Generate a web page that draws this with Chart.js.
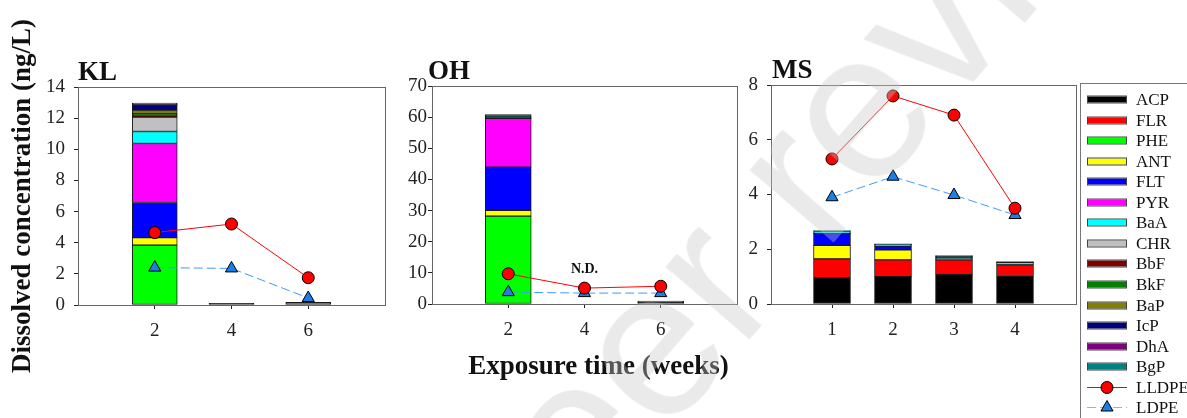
<!DOCTYPE html>
<html>
<head>
<meta charset="utf-8">
<script src="https://cdn.jsdelivr.net/npm/chart.js@4.4.1/dist/chart.umd.min.js"></script>
<style>
body { margin: 0; width: 1187px; height: 418px; position: relative; overflow: hidden; background: #fff; }
.panel { position: absolute; top: 0; }
#watermark {
    position: absolute; left: 0; top: 0; white-space: nowrap; pointer-events: none;
    font: 210px 'Liberation Sans', Arial, sans-serif; line-height: 1;
    color: rgba(200, 200, 200, 0.38);
    transform-origin: 0 0; transform: translate(-374px, 1362px) rotate(-49deg);
}
</style>
</head>
<body>
<canvas class="panel" id="kl" width="395" height="418" style="left:0"></canvas>
<canvas class="panel" id="oh" width="350" height="418" style="left:395px"></canvas>
<canvas class="panel" id="ms" width="442" height="418" style="left:745px"></canvas>
<div id="watermark">Preprint not peer reviewed</div>
<script>
const pahs = ['ACP', 'FLR', 'PHE', 'ANT', 'FLT', 'PYR', 'BaA', 'CHR', 'BbF', 'BkF', 'BaP', 'IcP', 'DhA', 'BgP']
const pahColors = ['#000000', '#ff0000', '#00ff00', '#ffff00', '#0000ff', '#ff00ff', '#00ffff',
    '#c0c0c0', '#800000', '#008000', '#808000', '#000080', '#800080', '#008080']

// KL, weeks 2 / 4 / 6  (one row per PAH, same order as pahs)
const klWeeks = [2, 4, 6]
const klPah = [
    [0, 0.1, 0],
    [0, 0, 0],
    [3.85, 0, 0],
    [0.48, 0, 0],
    [2.25, 0, 0],
    [3.79, 0, 0.17],
    [0.77, 0, 0],
    [0.93, 0, 0],
    [0.15, 0, 0],
    [0.05, 0, 0],
    [0.25, 0, 0],
    [0.3, 0, 0],
    [0.05, 0, 0],
    [0.1, 0, 0]
]
const klLLDPE = [4.65, 5.2, 1.75]
const klLDPE = [2.4, 2.35, 0.45]

// OH, weeks 2 / 4 / 6  (week 4 = N.D.)
const ohWeeks = [2, 4, 6]
const ohPah = [
    [0, 0, 0.5],
    [0, 0, 0],
    [28.2, 0, 0],
    [1.9, 0, 0],
    [13.8, 0, 0],
    [15.7, 0, 0],
    [0, 0, 0],
    [0, 0, 0],
    [0, 0, 0],
    [0, 0, 0],
    [0, 0, 0],
    [0.4, 0, 0],
    [0, 0, 0],
    [0.8, 0, 0.4]
]
const ohLLDPE = [9.7, 5.1, 5.7]
const ohLDPE = [3.8, 3.5, 3.5]

// MS, weeks 1 / 2 / 3 / 4
const msWeeks = [1, 2, 3, 4]
const msPah = [
    [0.95, 1.0, 1.07, 1.04],
    [0.70, 0.61, 0.54, 0.39],
    [0, 0, 0, 0],
    [0.49, 0.37, 0, 0],
    [0.43, 0.14, 0, 0],
    [0, 0, 0, 0],
    [0.08, 0.06, 0.07, 0.09],
    [0, 0, 0, 0],
    [0, 0, 0, 0],
    [0, 0, 0, 0],
    [0, 0, 0, 0],
    [0, 0, 0.05, 0],
    [0, 0, 0, 0],
    [0.03, 0.02, 0.04, 0.03]
]
const msLLDPE = [5.3, 7.6, 6.9, 3.5]
const msLDPE = [3.9, 4.65, 3.98, 3.25]

const serif = "'Liberation Serif', 'Times New Roman', serif"
Chart.defaults.font.family = serif
const lldpeColor = '#ff0000'
const ldpeColor = '#3d9bff'

function points(weeks, vals) {
    return weeks.map((w, i) => ({x: w, y: vals[i]}))
}

function buildDatasets(p) {
    const sets = pahs.map((name, k) => ({
        type: 'bar',
        label: name,
        data: points(p.weeks, p.pah[k]),
        backgroundColor: pahColors[k],
        borderColor: '#1a1a1a',
        borderWidth: 1,
        borderSkipped: false,
        barThickness: p.barWidth,
        order: 2
    }))
    sets.push({
        type: 'line', label: 'LLDPE', stack: 'lldpe',
        data: points(p.weeks, p.lldpe),
        borderColor: lldpeColor, borderWidth: 1,
        pointRadius: 6, pointBackgroundColor: lldpeColor, pointBorderColor: '#000', pointBorderWidth: 1,
        order: 0
    })
    sets.push({
        type: 'line', label: 'LDPE', stack: 'ldpe',
        data: points(p.weeks, p.ldpe),
        borderColor: ldpeColor, borderWidth: 1, borderDash: [9, 4],
        pointStyle: 'triangle', pointRadius: 7, pointBackgroundColor: '#1a7fe6', pointBorderColor: '#000', pointBorderWidth: 1,
        order: 1
    })
    return sets
}

// frame, panel label and extra texts
const decorations = {
    id: 'decorations',
    beforeDatasetsDraw(chart, args, opts) {
        const a = chart.chartArea, ctx = chart.ctx
        ctx.save()
        ctx.strokeStyle = '#666'
        ctx.lineWidth = 1
        ctx.strokeRect(Math.round(a.left) + 0.5, Math.round(a.top) + 0.5, Math.round(a.right - a.left), Math.round(a.bottom - a.top))
        ctx.restore()
    },
    afterDraw(chart, args, opts) {
        const a = chart.chartArea, ctx = chart.ctx
        ctx.save()
        ctx.fillStyle = '#111'
        ctx.font = 'bold 27px ' + serif
        ctx.textBaseline = 'alphabetic'
        ctx.textAlign = 'left'
        ctx.fillText(opts.title, a.left + (opts.titleDx || 0), a.top - 7)
        if (opts.yTitle) {
            ctx.save()
            ctx.translate(opts.yTitleX, (a.top + a.bottom) / 2)
            ctx.rotate(-Math.PI / 2)
            ctx.textAlign = 'center'
            ctx.textBaseline = 'middle'
            ctx.fillText(opts.yTitle, 0, 0)
            ctx.restore()
        }
        if (opts.xTitle) {
            ctx.textAlign = 'center'
            ctx.fillText(opts.xTitle, (a.left + a.right) / 2 + opts.xTitleDx, opts.xTitleY)
        }
        if (opts.note) {
            const xs = chart.scales.x, ys = chart.scales.y
            ctx.font = 'bold 14px ' + serif
            ctx.textAlign = 'center'
            ctx.textBaseline = 'middle'
            ctx.fillText(opts.note.text, xs.getPixelForValue(opts.note.x), ys.getPixelForValue(opts.note.y))
        }
        ctx.restore()
    }
}

// boxed legend at the right of the last panel
const boxLegend = {
    id: 'boxLegend',
    afterDraw(chart, args, opts) {
        if (!opts.show) return
        const a = chart.chartArea, ctx = chart.ctx
        const left = Math.round(a.right) + 4
        ctx.save()
        ctx.strokeStyle = '#777'
        ctx.lineWidth = 1
        ctx.strokeRect(left + 0.5, 83.5, 300, 400)
        ctx.font = '17px ' + serif
        ctx.textBaseline = 'middle'
        chart.data.datasets.forEach((ds, i) => {
            const y = Math.round(a.top + 14 + i * 20.55) + 0.5
            const x0 = left + 7, x1 = left + 47
            if (ds.type === 'bar') {
                ctx.fillStyle = ds.backgroundColor
                ctx.fillRect(x0, y - 3, 40, 6)
                ctx.strokeStyle = '#444'
                ctx.strokeRect(x0 + 0.5, y - 3.5, 39, 7)
            } else {
                ctx.strokeStyle = ds.label === 'LDPE' ? '#80b8ff' : ds.borderColor
                ctx.setLineDash(ds.borderDash || [])
                ctx.beginPath()
                ctx.moveTo(x0, y)
                ctx.lineTo(x1, y)
                ctx.stroke()
                ctx.setLineDash([])
                ctx.fillStyle = ds.pointBackgroundColor
                ctx.strokeStyle = '#000'
                Chart.helpers.drawPoint(ctx, {pointStyle: ds.pointStyle || 'circle', radius: ds.pointRadius, rotation: 0, borderWidth: 1}, (x0 + x1) / 2, y)
            }
            ctx.fillStyle = '#111'
            ctx.fillText(ds.label, left + 56, y + 1)
        })
        ctx.restore()
    }
}

function makePanel(id, p) {
    const tickFont = {family: serif, size: 19}
    new Chart(document.getElementById(id), {
        type: 'bar',
        data: {datasets: buildDatasets(p)},
        plugins: [decorations, boxLegend],
        options: {
            responsive: false,
            animation: false,
            layout: {padding: {left: 0, top: p.top, right: p.right, bottom: 418 - p.bottom - 40}},
            plugins: {
                legend: {display: false},
                tooltip: {enabled: false},
                decorations: p.deco,
                boxLegend: {show: !!p.legend}
            },
            scales: {
                x: {
                    type: 'linear', min: 0, max: p.xMax, stacked: true, offset: false,
                    afterBuildTicks: s => { s.ticks = p.weeks.map(v => ({value: v})) },
                    afterFit: s => { s.height = 40 },
                    grid: {drawOnChartArea: false, offset: false, tickLength: 4, color: '#222'},
                    border: {color: '#111', width: 1},
                    ticks: {font: tickFont, color: '#222', padding: 11, maxRotation: 0}
                },
                y: {
                    min: 0, max: p.yMax, stacked: true,
                    afterFit: s => { s.width = p.yWidth },
                    grid: {drawOnChartArea: false, tickLength: 4, color: '#222'},
                    border: {color: '#111', width: 1},
                    ticks: {font: tickFont, color: '#222', stepSize: p.yStep, padding: p.yPad}
                }
            }
        }
    })
}

makePanel('kl', {
    weeks: klWeeks, pah: klPah, lldpe: klLLDPE, ldpe: klLDPE,
    xMax: 8, yMax: 14, yStep: 2, barWidth: 45,
    top: 87, bottom: 305, right: 10, yWidth: 78, yPad: 9,
    deco: {title: 'KL', yTitle: 'Dissolved concentration (ng/L)', yTitleX: 23}
})
makePanel('oh', {
    weeks: ohWeeks, pah: ohPah, lldpe: ohLLDPE, ldpe: ohLDPE,
    xMax: 8, yMax: 70, yStep: 10, barWidth: 46,
    top: 86, bottom: 304, right: 8, yWidth: 37, yPad: 1,
    deco: {title: 'OH', titleDx: -4, xTitle: 'Exposure time (weeks)', xTitleDx: 14, xTitleY: 374,
        note: {text: 'N.D.', x: 4, y: 11.2}}
})
makePanel('ms', {
    weeks: msWeeks, pah: msPah, lldpe: msLLDPE, ldpe: msLDPE,
    xMax: 5, yMax: 8, yStep: 2, barWidth: 37,
    top: 85, bottom: 304, right: 111, yWidth: 26, yPad: 9,
    deco: {title: 'MS', titleDx: 1}, legend: true
})
</script>
</body>
</html>
